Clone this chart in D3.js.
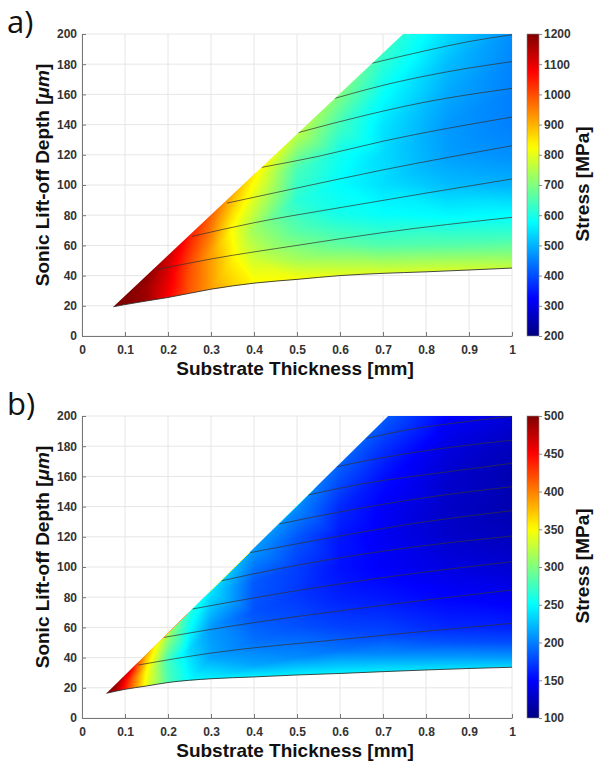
<!DOCTYPE html>
<html>
<head>
<meta charset="utf-8">
<script src="https://cdn.jsdelivr.net/npm/d3@7"></script>
<style>
  body { margin: 0; background: #fff; }
  svg text { font-family: "Liberation Sans", Arial, sans-serif; }
</style>
</head>
<body>
<div id="chart"></div>
<script>
// axis ticks
var thicknessTicks = [0, 0.1, 0.2, 0.3, 0.4, 0.5, 0.6, 0.7, 0.8, 0.9, 1];
var depthTicks = [0, 20, 40, 60, 80, 100, 120, 140, 160, 180, 200];
var stressTicksA = [200, 300, 400, 500, 600, 700, 800, 900, 1000, 1100, 1200];
var stressTicksB = [100, 150, 200, 250, 300, 350, 400, 450, 500];

// region edges [thickness mm, depth um]
var lowerEdgeA = [[0.073, 19.4], [0.1, 20.8], [0.15, 23.2], [0.2, 25.5], [0.3, 31], [0.4, 35], [0.5, 37.5],
    [0.6, 40], [0.7, 41.5], [0.8, 42.5], [0.9, 43.7], [1, 45]];
var upperEdgeA = [[0.073, 19.4], [0.747, 200]];
var lowerEdgeB = [[0.057, 16.4], [0.1, 19], [0.15, 21.2], [0.2, 23.5], [0.3, 26], [0.4, 27.2], [0.5, 28.5],
    [0.6, 29.5], [0.7, 30.7], [0.8, 31.8], [0.9, 32.8], [1, 33.6]];
var upperEdgeB = [[0.057, 16.4], [0.712, 200]];

// black iso lines
var isoLinesA = [
    [[0.174, 44], [0.3, 51], [0.5, 60], [0.7, 68.5], [1, 78.6]],
    [[0.256, 66], [0.4, 75], [0.6, 85], [1, 104]],
    [[0.337, 88], [0.5, 98], [0.7, 110], [1, 126]],
    [[0.418, 111.7], [0.55, 119], [0.7, 129], [1, 145]],
    [[0.503, 134.7], [0.6, 142], [0.8, 155], [1, 164]],
    [[0.588, 157.4], [0.7, 166], [0.85, 175], [1, 181.7]],
    [[0.674, 180.6], [0.8, 189], [0.9, 195], [1, 199.5]]
];
var isoLinesB = [
    [[0.131, 35.1], [0.3, 43], [0.6, 52], [1, 62.7]],
    [[0.191, 53.4], [0.35, 61], [0.6, 71], [1, 84.8]],
    [[0.257, 72.2], [0.45, 82], [0.7, 93], [1, 103.5]],
    [[0.325, 90.9], [0.46, 99], [0.7, 110.5], [1, 120.5]],
    [[0.391, 109.5], [0.55, 118], [0.8, 130], [1, 137.3]],
    [[0.459, 128.5], [0.6, 136.5], [0.8, 146], [1, 153.2]],
    [[0.526, 147.7], [0.65, 155], [0.85, 163], [1, 168.7]],
    [[0.592, 166.4], [0.7, 172.5], [0.85, 179], [1, 184]],
    [[0.662, 185.2], [0.75, 190.5], [0.9, 196.5], [1, 200]]
];

// stress samples [thickness, depth, stress MPa]
var stressSamplesA = [
    [0.073, 19.4, 1200],
    [0.10, 20.8, 1200], [0.10, 26.5, 1200],
    [0.15, 23.2, 1170], [0.15, 32, 1170], [0.15, 40, 1190],
    [0.20, 25.5, 1080], [0.20, 38, 1100], [0.20, 53, 1130],
    [0.25, 28.5, 990], [0.25, 45, 1000], [0.25, 66, 1050],
    [0.30, 31, 920], [0.30, 55, 920], [0.30, 80, 980],
    [0.35, 33, 870], [0.35, 50, 840], [0.35, 70, 820], [0.35, 93, 900],
    [0.40, 35, 830], [0.40, 50, 780], [0.40, 70, 730], [0.40, 90, 790], [0.40, 107, 840],
    [0.50, 37.5, 820], [0.50, 50, 740], [0.50, 70, 660], [0.50, 90, 615], [0.50, 110, 645], [0.50, 134, 760],
    [0.60, 40, 800], [0.60, 60, 670], [0.60, 80, 595], [0.60, 100, 575], [0.60, 120, 590], [0.60, 140, 640], [0.60, 161, 700],
    [0.70, 41.5, 790], [0.70, 60, 655], [0.70, 80, 580], [0.70, 100, 545], [0.70, 120, 540], [0.70, 140, 550], [0.70, 160, 580], [0.70, 188, 630],
    [0.747, 200, 610],
    [0.85, 44, 780], [0.85, 60, 660], [0.85, 80, 570], [0.85, 100, 510], [0.85, 120, 480], [0.85, 140, 475], [0.85, 160, 490], [0.85, 180, 510], [0.85, 200, 540],
    [1.00, 45, 770], [1.00, 55, 700], [1.00, 65, 640], [1.00, 80, 575], [1.00, 100, 500], [1.00, 120, 465], [1.00, 140, 450], [1.00, 160, 450], [1.00, 180, 455], [1.00, 200, 465]
];
var stressSamplesB = [
    [0.057, 16.4, 500],
    [0.08, 18, 480], [0.08, 22.5, 490],
    [0.11, 19.5, 420], [0.11, 25, 430], [0.11, 31, 460],
    [0.15, 21.2, 340], [0.15, 31, 350], [0.15, 42, 380],
    [0.20, 23.5, 280], [0.20, 38, 275], [0.20, 56, 315],
    [0.25, 25, 250], [0.25, 45, 235], [0.25, 70, 265],
    [0.30, 26, 245], [0.30, 40, 215], [0.30, 60, 210], [0.30, 84, 240],
    [0.40, 27.2, 245], [0.40, 35, 215], [0.40, 50, 195], [0.40, 70, 182], [0.40, 90, 185], [0.40, 112, 210],
    [0.50, 28.5, 245], [0.50, 40, 205], [0.50, 60, 182], [0.50, 80, 172], [0.50, 100, 174], [0.50, 120, 184], [0.50, 140, 205],
    [0.60, 29.5, 245], [0.60, 45, 195], [0.60, 60, 176], [0.60, 80, 162], [0.60, 100, 156], [0.60, 120, 158], [0.60, 140, 166], [0.60, 168, 188],
    [0.70, 30.7, 243], [0.70, 42, 205], [0.70, 55, 178], [0.70, 80, 158], [0.70, 100, 148], [0.70, 120, 145], [0.70, 140, 148], [0.70, 160, 156], [0.70, 180, 170],
    [0.712, 200, 185],
    [0.85, 32.3, 240], [0.85, 40, 212], [0.85, 50, 182], [0.85, 60, 165], [0.85, 80, 150], [0.85, 100, 138], [0.85, 120, 130], [0.85, 140, 128], [0.85, 160, 131], [0.85, 180, 138], [0.85, 200, 150],
    [1.00, 33.6, 235], [1.00, 40, 210], [1.00, 50, 180], [1.00, 60, 163], [1.00, 80, 145], [1.00, 100, 132], [1.00, 120, 124], [1.00, 140, 119], [1.00, 160, 119], [1.00, 180, 124], [1.00, 200, 134]
];

var W = 597, H = 765;
var plotLeft = 82, plotRight = 512;
var cbarX = 527, cbarW = 12;

var panels = [
    {tag: 'a)', top: 34, bottom: 336, lower: lowerEdgeA, upper: upperEdgeA, iso: isoLinesA, samples: stressSamplesA, cTicks: stressTicksA},
    {tag: 'b)', top: 416, bottom: 718, lower: lowerEdgeB, upper: upperEdgeB, iso: isoLinesB, samples: stressSamplesB, cTicks: stressTicksB}
];

function jet(t) {
    function c(v) { return Math.max(0, Math.min(1, v)); }
    var r = c(Math.min(4 * t - 1.5, -4 * t + 4.5));
    var g = c(Math.min(4 * t - 0.5, -4 * t + 3.5));
    var b = c(Math.min(4 * t + 0.5, -4 * t + 2.5));
    return [Math.round(r * 255), Math.round(g * 255), Math.round(b * 255)];
}

var svg = d3.select('#chart').append('svg')
    .attr('width', W)
    .attr('height', H);
var defs = svg.append('defs');

// jet gradient for colorbars
var grad = defs.append('linearGradient').attr('id', 'jetGrad')
    .attr('x1', 0).attr('y1', 1).attr('x2', 0).attr('y2', 0);
d3.range(0, 1.0001, 0.02).forEach(function (t) {
    var c = jet(t);
    grad.append('stop').attr('offset', t).attr('stop-color', 'rgb(' + c.join(',') + ')');
});

function paintField(samples, x, y, cScale, x0, y0, w, h) {
    var canvas = document.createElement('canvas');
    canvas.width = w; canvas.height = h;
    var ctx = canvas.getContext('2d');
    var img = ctx.createImageData(w, h);
    var pts = samples.map(function (d) { return [x(d[0]) - x0, y(d[1]) - y0]; });
    var vals = samples.map(function (d) { return d[2]; });
    var del = d3.Delaunay.from(pts);
    var field = new Float32Array(w * h);
    var done = new Uint8Array(w * h);
    var tri = del.triangles;
    for (var t = 0; t < tri.length; t += 3) {
        var a = pts[tri[t]], b = pts[tri[t + 1]], c = pts[tri[t + 2]];
        var va = vals[tri[t]], vb = vals[tri[t + 1]], vc = vals[tri[t + 2]];
        var det = (b[1] - c[1]) * (a[0] - c[0]) + (c[0] - b[0]) * (a[1] - c[1]);
        if (Math.abs(det) < 1e-9) continue;
        var minX = Math.max(0, Math.floor(Math.min(a[0], b[0], c[0])));
        var maxX = Math.min(w - 1, Math.ceil(Math.max(a[0], b[0], c[0])));
        var minY = Math.max(0, Math.floor(Math.min(a[1], b[1], c[1])));
        var maxY = Math.min(h - 1, Math.ceil(Math.max(a[1], b[1], c[1])));
        for (var py = minY; py <= maxY; py++) {
            for (var px = minX; px <= maxX; px++) {
                var qx = px + 0.5, qy = py + 0.5;
                var l1 = ((b[1] - c[1]) * (qx - c[0]) + (c[0] - b[0]) * (qy - c[1])) / det;
                var l2 = ((c[1] - a[1]) * (qx - c[0]) + (a[0] - c[0]) * (qy - c[1])) / det;
                var l3 = 1 - l1 - l2;
                if (l1 >= -1e-6 && l2 >= -1e-6 && l3 >= -1e-6) {
                    var k = py * w + px;
                    field[k] = l1 * va + l2 * vb + l3 * vc;
                    done[k] = 1;
                }
            }
        }
    }
    var last = 0;
    for (var k = 0; k < w * h; k++) {
        if (!done[k]) {
            last = del.find((k % w) + 0.5, Math.floor(k / w) + 0.5, last);
            field[k] = vals[last];
        }
        var col = jet(cScale(field[k]));
        img.data[4 * k] = col[0];
        img.data[4 * k + 1] = col[1];
        img.data[4 * k + 2] = col[2];
        img.data[4 * k + 3] = 255;
    }
    ctx.putImageData(img, 0, 0);
    return canvas.toDataURL();
}

panels.forEach(function (p, i) {
    var x = d3.scaleLinear().domain([0, 1]).range([plotLeft, plotRight]);
    var y = d3.scaleLinear().domain([0, 200]).range([p.bottom, p.top]);
    var cExtent = d3.extent(p.cTicks);
    var cScale = d3.scaleLinear().domain(cExtent).range([0, 1]).clamp(true);
    var cY = d3.scaleLinear().domain(cExtent).range([p.bottom, p.top]);
    var g = svg.append('g');

    // grid
    g.append('g').selectAll('line.v').data(thicknessTicks).join('line')
        .attr('x1', function (d) { return x(d); }).attr('x2', function (d) { return x(d); })
        .attr('y1', p.top).attr('y2', p.bottom)
        .attr('stroke', '#e6e6e6').attr('stroke-width', 1);
    g.append('g').selectAll('line.h').data(depthTicks).join('line')
        .attr('y1', function (d) { return y(d); }).attr('y2', function (d) { return y(d); })
        .attr('x1', plotLeft).attr('x2', plotRight)
        .attr('stroke', '#e6e6e6').attr('stroke-width', 1);

    // region clip
    var region = p.lower.concat([[1, 200]], p.upper.slice().reverse());
    var line = d3.line().x(function (d) { return x(d[0]); }).y(function (d) { return y(d[1]); });
    defs.append('clipPath').attr('id', 'region' + i)
        .append('path').attr('d', line(region) + 'Z');

    var url = paintField(p.samples, x, y, cScale, plotLeft, p.top, plotRight - plotLeft, p.bottom - p.top);
    g.append('image')
        .attr('x', plotLeft).attr('y', p.top)
        .attr('width', plotRight - plotLeft).attr('height', p.bottom - p.top)
        .attr('href', url)
        .attr('clip-path', 'url(#region' + i + ')');

    var curve = d3.line().curve(d3.curveMonotoneX)
        .x(function (d) { return x(d[0]); }).y(function (d) { return y(d[1]); });
    g.append('g').attr('clip-path', 'url(#region' + i + ')')
        .selectAll('path').data(p.iso).join('path')
        .attr('d', curve)
        .attr('fill', 'none').attr('stroke', '#333').attr('stroke-width', 0.9).attr('stroke-opacity', 0.8);
    g.append('path').attr('d', curve(p.lower))
        .attr('fill', 'none').attr('stroke', '#333').attr('stroke-width', 1).attr('stroke-opacity', 0.9);

    // axes
    var xAxis = d3.axisBottom(x).tickValues(thicknessTicks)
        .tickFormat(function (d) { return String(+d.toFixed(1)); })
        .tickSizeInner(-4).tickSizeOuter(0).tickPadding(9);
    var yAxis = d3.axisLeft(y).tickValues(depthTicks)
        .tickSizeInner(-4).tickSizeOuter(0).tickPadding(5);
    var xg = g.append('g').attr('transform', 'translate(0,' + p.bottom + ')').call(xAxis);
    var yg = g.append('g').attr('transform', 'translate(' + plotLeft + ',0)').call(yAxis);
    [xg, yg].forEach(function (ax) {
        ax.select('.domain').attr('stroke', '#777');
        ax.selectAll('.tick line').attr('stroke', '#777');
        ax.selectAll('.tick text').attr('fill', '#333')
            .style('font-size', '12px').style('font-weight', 'bold');
    });

    g.append('text')
        .attr('x', (plotLeft + plotRight) / 2 - 2).attr('y', p.bottom + 39)
        .attr('text-anchor', 'middle')
        .style('font-size', '19px').style('font-weight', 'bold').attr('fill', '#111')
        .text('Substrate Thickness [mm]');
    var yl = g.append('text')
        .attr('transform', 'translate(49,' + (p.top + 141) + ') rotate(-90)')
        .attr('text-anchor', 'middle')
        .style('font-size', '19px').style('font-weight', 'bold').attr('fill', '#111');
    yl.append('tspan').text('Sonic Lift-off Depth [');
    yl.append('tspan').style('font-style', 'italic').text('μm');
    yl.append('tspan').text(']');

    // colorbar
    g.append('rect')
        .attr('x', cbarX).attr('y', p.top)
        .attr('width', cbarW).attr('height', p.bottom - p.top)
        .attr('fill', 'url(#jetGrad)')
        .attr('stroke', '#888').attr('stroke-width', 0.6);
    var cAxis = d3.axisRight(cY).tickValues(p.cTicks).tickFormat(d3.format('d'))
        .tickSizeInner(3).tickSizeOuter(0).tickPadding(2);
    var cg = g.append('g').attr('transform', 'translate(' + (cbarX + cbarW) + ',0)').call(cAxis);
    cg.select('.domain').remove();
    cg.selectAll('.tick line').attr('stroke', '#888');
    cg.selectAll('.tick text').attr('fill', '#333')
        .style('font-size', '12px').style('font-weight', 'bold');
    g.append('text')
        .attr('transform', 'translate(589,' + (p.top + 150) + ') rotate(-90)')
        .attr('text-anchor', 'middle')
        .style('font-size', '19px').style('font-weight', 'bold').attr('fill', '#111')
        .text('Stress [MPa]');

    g.append('text')
        .attr('x', 7).attr('y', p.top - 1)
        .style('font-family', '"Open Sans", sans-serif')
        .style('font-size', '31px').attr('fill', '#111')
        .text(p.tag);
});
</script>
</body>
</html>
